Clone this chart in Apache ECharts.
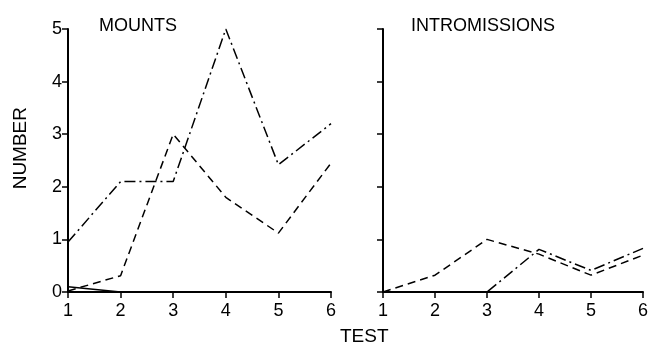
<!DOCTYPE html>
<html>
<head>
<meta charset="utf-8">
<script src="https://cdn.jsdelivr.net/npm/echarts@6/dist/echarts.min.js"></script>
<style>html,body{margin:0;padding:0;background:#fff}#c{width:651px;height:347px}</style>
</head>
<body>
<div id="c"></div>
<script>
const tests = [1, 2, 3, 4, 5, 6];
const yTicks = [0, 1, 2, 3, 4, 5];
const mountsDashDot = [0.95, 2.1, 2.1, 5.0, 2.42, 3.2];
const mountsDashed = [0.02, 0.31, 3.0, 1.8, 1.12, 2.45];
const mountsSolid = [0.1, 0, 0, 0, 0, 0];
const intromDashDot = [0, 0, 0, 0.81, 0.41, 0.83];
const intromDashed = [0, 0.32, 1.0, 0.72, 0.32, 0.7];
const intromSolid = [0, 0, 0, 0, 0, 0];

const font = 'Liberation Sans, Arial, sans-serif';
const chart = echarts.init(document.getElementById('c'));
const pair = arr => tests.map((t, i) => [t, arr[i]]);
const dashDot = [11, 4, 2, 4];
const dashed = [8, 5];
function line(name, data, type, xi) {
  return {
    name, type: 'line', xAxisIndex: xi, yAxisIndex: xi, data: pair(data),
    symbol: 'none', silent: true, animation: false,
    lineStyle: { color: '#000', width: 1.5, type: type }
  };
}
function xAxis(gi) {
  return {
    type: 'value', gridIndex: gi, min: 1, max: 6, interval: 1,
    axisLine: { show: true, onZero: false, lineStyle: { color: '#000', width: 2 } },
    axisTick: { show: true, inside: false, length: 6, lineStyle: { color: '#000', width: 1.5 } },
    axisLabel: { color: '#000', fontSize: 18, fontFamily: font, margin: 10 },
    splitLine: { show: false }
  };
}
function yAxis(gi, showLabels) {
  return {
    type: 'value', gridIndex: gi, min: 0, max: 5, interval: 1,
    axisLine: { show: true, lineStyle: { color: '#000', width: 2 } },
    axisTick: { show: true, inside: false, length: 6, lineStyle: { color: '#000', width: 1.5 } },
    axisLabel: { show: showLabels, color: '#000', fontSize: 18, fontFamily: font, margin: 6,
      formatter: v => yTicks.includes(v) ? String(v) : '' },
    splitLine: { show: false }
  };
}
chart.setOption({
  animation: false,
  backgroundColor: '#fff',
  title: [
    { text: 'MOUNTS', left: 94, top: 12, textStyle: { color: '#000', fontSize: 18, fontWeight: 'normal', fontFamily: font } },
    { text: 'INTROMISSIONS', left: 406, top: 12, textStyle: { color: '#000', fontSize: 18, fontWeight: 'normal', fontFamily: font } }
  ],
  graphic: [
    { type: 'text', left: 11, top: 107, rotation: Math.PI / 2,
      style: { text: 'NUMBER', fill: '#000', fontSize: 19, fontFamily: font } },
    { type: 'text', left: 340, top: 327,
      style: { text: 'TEST', fill: '#000', fontSize: 19, fontFamily: font } }
  ],
  grid: [
    { left: 68, right: 320, top: 29, bottom: 55 },
    { left: 383, right: 6, top: 29, bottom: 55 }
  ],
  xAxis: [xAxis(0), xAxis(1)],
  yAxis: [yAxis(0, true), yAxis(1, false)],
  series: [
    line('Mounts dash-dot', mountsDashDot, dashDot, 0),
    line('Mounts dashed', mountsDashed, dashed, 0),
    line('Mounts solid', mountsSolid, 'solid', 0),
    line('Intromissions dash-dot', intromDashDot, dashDot, 1),
    line('Intromissions dashed', intromDashed, dashed, 1),
    line('Intromissions solid', intromSolid, 'solid', 1)
  ]
});
</script>
</body>
</html>
